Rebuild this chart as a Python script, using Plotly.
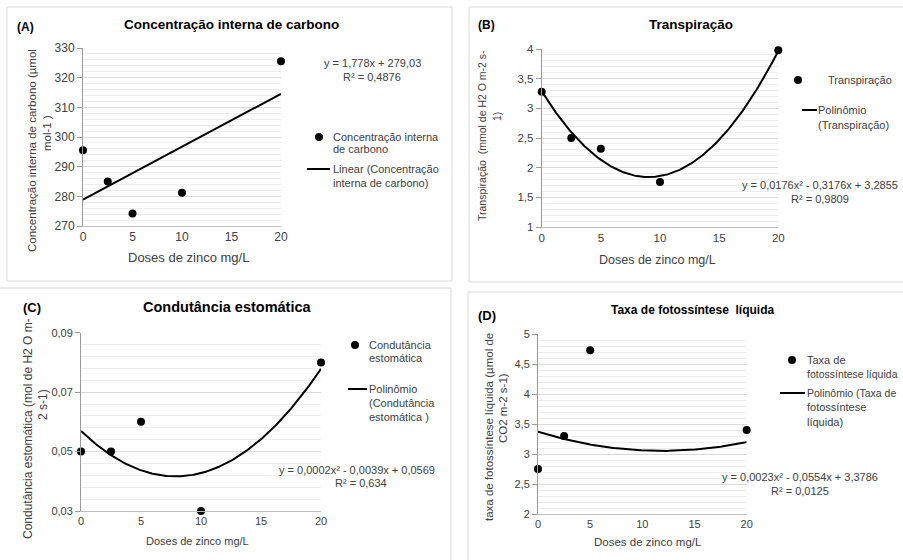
import numpy as np
import plotly.graph_objects as go

W, H = 903, 560
FONT = "Liberation Sans, Arial, sans-serif"
TXT = "#404040"

# ---------------- data ----------------
doses = [0, 2.5, 5, 10, 20]
x_ticks = [0, 5, 10, 15, 20]
x_tick_labels = ["0", "5", "10", "15", "20"]

ci_values = [295.5, 285.0, 274.2, 281.2, 325.5]
ci_ticks = [270, 280, 290, 300, 310, 320, 330]
ci_tick_labels = ["270", "280", "290", "300", "310", "320", "330"]

tr_values = [3.28, 2.50, 2.32, 1.76, 3.98]
tr_ticks = [1, 1.5, 2, 2.5, 3, 3.5, 4]
tr_tick_labels = ["1", "1,5", "2", "2,5", "3", "3,5", "4"]

gs_values = [0.050, 0.050, 0.060, 0.030, 0.080]
gs_ticks = [0.03, 0.05, 0.07, 0.09]
gs_tick_labels = ["0,03", "0,05", "0,07", "0,09"]

ps_values = [2.75, 3.30, 4.73, 1.86, 3.40]
ps_ticks = [2, 2.5, 3, 3.5, 4, 4.5, 5]
ps_tick_labels = ["2", "2,5", "3", "3,5", "4", "4,5", "5"]

# ---------------- panel definitions ----------------
panels = [
    dict(key="A", y=ci_values, deg=1, ticks=ci_ticks, labels=ci_tick_labels,
         rng=[270, 330], minor=2, px=(83, 281), py=(48, 226), tick_size=12),
    dict(key="B", y=tr_values, deg=2, ticks=tr_ticks, labels=tr_tick_labels,
         rng=[1, 4], minor=0.1, px=(541.7, 778.3), py=(49, 227), tick_size=11.5),
    dict(key="C", y=gs_values, deg=2, ticks=gs_ticks, labels=gs_tick_labels,
         rng=[0.03, 0.09], minor=0.004, px=(81, 321), py=(332.7, 511), tick_size=11),
    dict(key="D", y=ps_values, deg=2, ticks=ps_ticks, labels=ps_tick_labels,
         rng=[2, 5], minor=0.1, px=(538, 746.7), py=(334, 514), tick_size=11),
]

fig = go.Figure()
layout = {}
for i, p in enumerate(panels):
    n = "" if i == 0 else str(i + 1)
    xa, ya = "x" + n, "y" + n
    # fitted trend line (least squares, like the spreadsheet trendline)
    coef = np.polyfit(doses, p["y"], p["deg"])
    xf = np.linspace(0, 20, 201)
    fig.add_trace(go.Scatter(x=xf, y=np.polyval(coef, xf), mode="lines",
                             line=dict(color="black", width=2), xaxis=xa, yaxis=ya,
                             hoverinfo="skip", showlegend=False))
    lo, hi = p["rng"]
    xs = [x for x, v in zip(doses, p["y"]) if lo <= v <= hi]
    ys = [v for v in p["y"] if lo <= v <= hi]
    fig.add_trace(go.Scatter(x=xs, y=ys, mode="markers",
                             marker=dict(color="black", size=8), cliponaxis=False,
                             xaxis=xa, yaxis=ya, showlegend=False))
    layout["xaxis" + n] = dict(
        domain=[p["px"][0] / W, p["px"][1] / W], anchor=ya, range=[0, 20],
        tickvals=x_ticks, ticktext=x_tick_labels, showgrid=False, zeroline=False,
        showline=True, linecolor="#bfbfbf", linewidth=1, ticks="", automargin=False,
        tickfont=dict(size=p["tick_size"], color=TXT, family=FONT))
    layout["yaxis" + n] = dict(
        domain=[1 - p["py"][1] / H, 1 - p["py"][0] / H], anchor=xa, range=p["rng"],
        tickvals=p["ticks"], ticktext=p["labels"], showgrid=True, gridcolor="#d9d9d9",
        gridwidth=1, zeroline=False, showline=True, linecolor="#9a9a9a", linewidth=1,
        ticks="outside", ticklen=5, tickcolor="#9a9a9a", automargin=False,
        minor=dict(dtick=p["minor"], tick0=lo, showgrid=True, gridcolor="#ededed",
                   gridwidth=1, ticks=""),
        tickfont=dict(size=p["tick_size"], color=TXT, family=FONT))

annotations = []
shapes = []


def txt(s, x, y, size, bold=False, xanchor="center", angle=0, color=TXT):
    annotations.append(dict(
        text=("<b>%s</b>" % s) if bold else s, x=x / W, y=1 - y / H,
        xref="paper", yref="paper", showarrow=False, xanchor=xanchor,
        yanchor="middle", textangle=angle, borderpad=0,
        font=dict(size=size, color=color, family=FONT)))


def frame(x0, y0, x1, y1):
    shapes.append(dict(type="rect", xref="paper", yref="paper", layer="below",
                       x0=x0 / W, x1=x1 / W, y0=1 - y1 / H, y1=1 - y0 / H,
                       line=dict(color="#d9d9d9", width=1), fillcolor="white"))


def dot(cx, cy, r=4):
    shapes.append(dict(type="circle", xref="paper", yref="paper",
                       x0=(cx - r) / W, x1=(cx + r) / W, y0=1 - (cy + r) / H,
                       y1=1 - (cy - r) / H, fillcolor="black", line=dict(width=0)))


def seg(x0, x1, y):
    shapes.append(dict(type="line", xref="paper", yref="paper",
                       x0=x0 / W, x1=x1 / W, y0=1 - y / H, y1=1 - y / H,
                       line=dict(color="black", width=2)))


# frames
frame(7, 7, 452, 281)
frame(469, 7, 910, 282)
frame(-5, 288, 451, 570)
frame(468, 292, 910, 570)

# ---- Panel A ----
txt("(A)", 16, 27, 12, bold=True, xanchor="left", color="black")
txt("Concentração interna de carbono", 231, 25, 13.5, bold=True, color="black")
txt("Concentração interna de carbono (µmol", 32, 151, 11.5, angle=-90)
txt("mol-1 )", 47, 133, 11.5, angle=-90)
txt("Doses de zinco mg/L", 188, 258, 13)
txt("y = 1,778x + 279,03", 372, 63, 11)
txt("R² = 0,4876", 372, 77, 11)
dot(319, 137)
txt("Concentração interna", 332, 137, 11, xanchor="left")
txt("de carbono", 332, 149, 11, xanchor="left")
seg(307, 330, 169)
txt("Linear (Concentração", 332, 169, 11, xanchor="left")
txt("interna de carbono)", 332, 183, 11, xanchor="left")

# ---- Panel B ----
txt("(B)", 477, 25, 12, bold=True, xanchor="left", color="black")
txt("Transpiração", 691, 25, 13.5, bold=True, color="black")
txt("Transpiração  (mmol de H2 O m-2 s-", 482, 136, 10.5, angle=-90)
txt("1)", 497, 117, 10.5, angle=-90)
txt("Doses de zinco mg/L", 657, 260, 12.5)
txt("y = 0,0176x² - 0,3176x + 3,2855", 820, 185, 11)
txt("R² = 0,9809", 820, 199, 11)
dot(798, 80)
txt("Transpiração", 827, 80, 11, xanchor="left")
seg(802, 817, 110)
txt("Polinômio", 817, 110, 11, xanchor="left")
txt("(Transpiração)", 817, 125, 11, xanchor="left")

# ---- Panel C ----
txt("(C)", 22, 307, 13, bold=True, xanchor="left", color="black")
txt("Condutância estomática", 227, 307, 14.5, bold=True, color="black")
txt("Condutância estomática (mol de H2 O m-", 28, 429, 12, angle=-90)
txt("2 s-1)", 43, 405, 12, angle=-90)
txt("Doses de zinco mg/L", 197, 541, 11)
txt("y = 0,0002x² - 0,0039x + 0,0569", 357, 470, 11)
txt("R² = 0,634", 361, 483, 11)
dot(355, 345)
txt("Condutância", 368, 345, 11, xanchor="left")
txt("estomática", 368, 358, 11, xanchor="left")
seg(348, 367, 389)
txt("Polinômio", 368, 389, 11, xanchor="left")
txt("(Condutância", 368, 403, 11, xanchor="left")
txt("estomática )", 368, 417, 11, xanchor="left")

# ---- Panel D ----
txt("(D)", 477, 315, 13, bold=True, xanchor="left", color="black")
txt("Taxa de fotossíntese  líquida", 692, 310, 12, bold=True, color="black")
txt("taxa de fotossíntese líquida (µmol de", 489, 427, 11.5, angle=-90)
txt("CO2 m-2 s-1)", 503, 408, 11.5, angle=-90)
txt("Doses de zinco mg/L", 648, 542, 11.5)
txt("y = 0,0023x² - 0,0554x + 3,3786", 800, 477, 11)
txt("R² = 0,0125", 800, 491, 11)
dot(792, 360)
txt("Taxa de", 806, 360, 11, xanchor="left")
txt("fotossíntese líquida", 806, 374, 10.5, xanchor="left")
seg(780, 805, 393)
txt("Polinômio (Taxa de", 806, 393, 10.5, xanchor="left")
txt("fotossíntese", 806, 407, 11, xanchor="left")
txt("líquida)", 806, 422, 11, xanchor="left")

fig.update_layout(
    width=W, height=H, margin=dict(l=0, r=0, t=0, b=0, pad=0, autoexpand=False),
    paper_bgcolor="white", plot_bgcolor="rgba(0,0,0,0)",
    showlegend=False, annotations=annotations, shapes=shapes,
    font=dict(family=FONT, color=TXT), **layout)

fig.write_html(
    "out.html",
    config={"displayModeBar": False},
    post_script="document.body.style.margin='0';"
                "document.documentElement.style.overflow='hidden';")
